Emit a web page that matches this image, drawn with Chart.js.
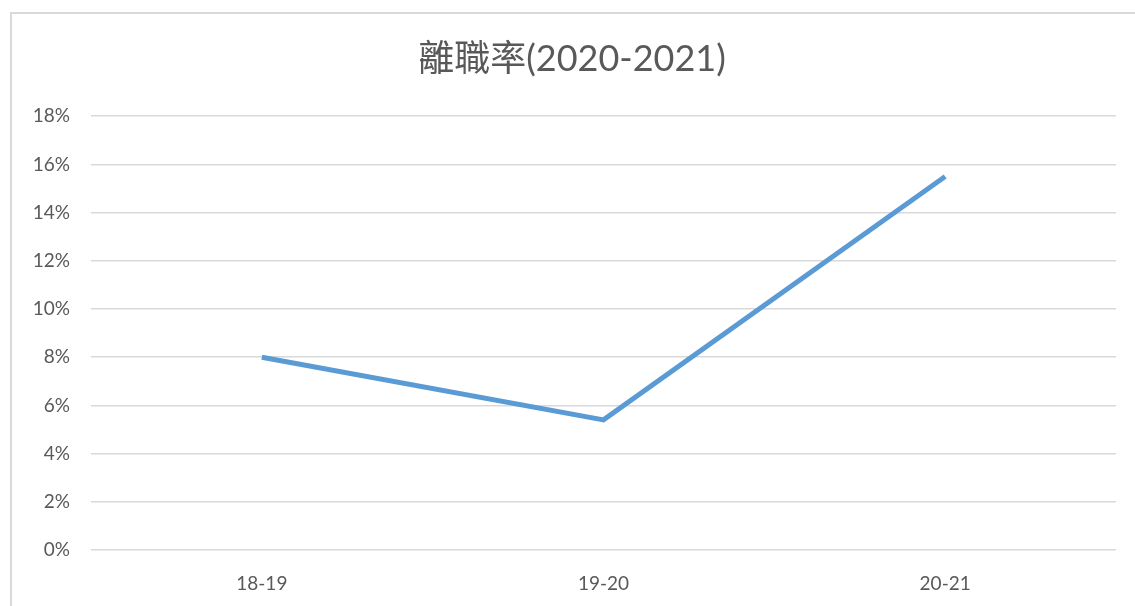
<!DOCTYPE html>
<html>
<head>
<meta charset="utf-8">
<script src="https://cdn.jsdelivr.net/npm/chart.js@4/dist/chart.umd.min.js"></script>
<style>
  html, body { margin: 0; padding: 0; background: #fff; overflow: hidden; }
  #frame { position: absolute; left: 10px; top: 12px; width: 1140px; height: 620px; border: 2px solid #d9d9d9; box-sizing: border-box; }
  #wrap { position: absolute; left: 0; top: 0; width: 1135px; height: 606px; }
</style>
</head>
<body>
<div id="frame"></div>
<div id="wrap"><canvas id="chart"></canvas></div>
<script>
const categories = ['18-19', '19-20', '20-21'];
const turnoverRate = [8.0, 5.4, 15.5];
const yTicks = { min: 0, max: 18, step: 2 };
const titleText = '離職率(2020-2021)';

const fontFamily = "Lato, 'Noto Sans CJK TC', sans-serif";

new Chart(document.getElementById('chart'), {
  type: 'line',
  data: {
    labels: categories,
    datasets: [{
      label: '離職率',
      data: turnoverRate,
      borderColor: '#5b9bd5',
      backgroundColor: '#5b9bd5',
      borderWidth: 5,
      pointRadius: 0,
      tension: 0
    }]
  },
  options: {
    responsive: true,
    maintainAspectRatio: false,
    animation: false,
    layout: { padding: { left: 28, right: 19, top: 0, bottom: 0 } },
    plugins: {
      legend: { display: false },
      tooltip: { enabled: false },
      title: {
        display: true,
        text: titleText,
        color: '#595959',
        font: { family: fontFamily, size: 36, weight: 'normal' },
        padding: { top: 38, bottom: 35 }
      }
    },
    scales: {
      x: {
        offset: true,
        grid: { display: false, drawTicks: false },
        border: { display: false },
        ticks: { color: '#595959', font: { family: fontFamily, size: 19 }, padding: 22 },
        afterFit: scale => { scale.height = 56; }
      },
      y: {
        min: yTicks.min,
        max: yTicks.max,
        grid: { color: '#d9d9d9', lineWidth: 1.5, drawTicks: false },
        border: { display: false },
        ticks: {
          stepSize: yTicks.step,
          color: '#595959',
          font: { family: fontFamily, size: 19 },
          padding: 21,
          callback: v => v + '%'
        },
        afterFit: scale => { scale.width = 63; }
      }
    }
  }
});
</script>
</body>
</html>
